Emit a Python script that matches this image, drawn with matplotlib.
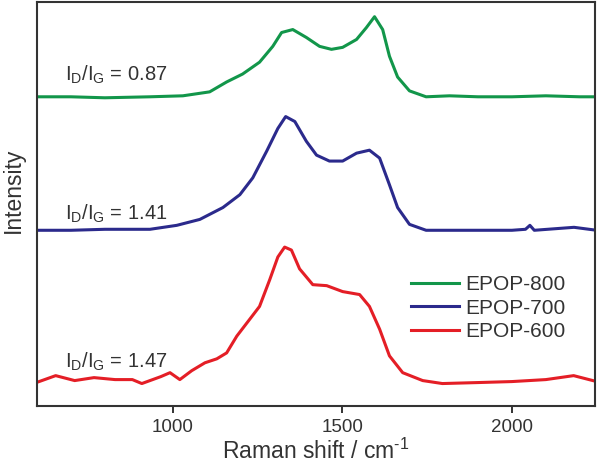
import matplotlib
matplotlib.use("Agg")
import matplotlib.pyplot as plt

plt.rcParams['font.family'] = ['Liberation Sans', 'DejaVu Sans']
plt.rcParams['mathtext.fontset'] = 'custom'
plt.rcParams['mathtext.rm'] = 'Liberation Sans'

# Raman shift (cm-1) and stacked intensity (arb. units, offsets included)
shift_800 = [598, 700, 800, 933, 1030, 1109, 1159, 1206, 1256, 1295, 1321, 1354, 1394,
             1433, 1468, 1501, 1542, 1571, 1595, 1619, 1639, 1663, 1698, 1747, 1816,
             1900, 2000, 2100, 2200, 2250]
int_800 = [313, 313, 312, 313, 314, 318, 328, 336, 348, 364, 378, 381, 373,
           364, 361, 363, 371, 383, 394, 381, 354, 333, 319, 313, 314,
           313, 313, 314, 313, 313]

shift_700 = [598, 700, 800, 933, 1012, 1080, 1148, 1198, 1236, 1277, 1310, 1333, 1360,
             1394, 1424, 1462, 1501, 1542, 1580, 1610, 1639, 1663, 1698, 1747, 1816,
             1900, 2000, 2040, 2053, 2066, 2183, 2250]
int_700 = [178, 178, 179, 179, 183, 189, 201, 214, 231, 258, 281, 293, 288,
           268, 254, 248, 248, 256, 259, 251, 224, 201, 184, 178, 178,
           178, 178, 179, 183, 178, 181, 178]

shift_600 = [598, 655, 711, 768, 830, 881, 909, 933, 965, 992, 1021, 1056, 1095,
             1130, 1159, 1189, 1227, 1256, 1286, 1310, 1330, 1350, 1374, 1413, 1454,
             1501, 1551, 1580, 1610, 1639, 1678, 1737, 1795, 1900, 2000, 2100, 2182, 2250]
int_600 = [24, 31, 26, 29, 27, 27, 23, 26, 30, 34, 27, 36, 44,
           48, 54, 71, 88, 101, 128, 151, 161, 158, 139, 123, 122,
           116, 113, 101, 78, 51, 34, 26, 23, 24, 25, 27, 31, 25]

labels = ['EPOP-800', 'EPOP-700', 'EPOP-600']
ratios = ['0.87', '1.41', '1.47']
ratio_y = [329, 189, 39]
colors = ['#12964a', '#2b2a8c', '#e41e26']

fig = plt.figure(figsize=(6.0, 4.67), dpi=100)
ax = fig.add_axes([0.0617, 0.13, 0.930, 0.866])

series = [(shift_800, int_800), (shift_700, int_700), (shift_600, int_600)]
for (x, y), lab, c in zip(series, labels, colors):
    ax.plot(x, y, color=c, lw=2.2, label=lab)

for r, yy in zip(ratios, ratio_y):
    ax.text(682, yy, r'I$_\mathregular{D}$/I$_\mathregular{G}$ = ' + r,
            fontsize=14.5, color='#333333', va='baseline', ha='left')

ax.set_xlim(600, 2245)
ax.set_ylim(0, 409)
ax.set_xticks([1000, 1500, 2000])
ax.set_yticks([])
ax.tick_params(axis='x', direction='out', length=5, width=1.4, color='#333333',
               labelsize=13.5, labelcolor='#333333', pad=4)
for s in ax.spines.values():
    s.set_linewidth(1.5)
    s.set_color('#333333')

ax.set_xlabel('Raman shift / cm$^{\\mathregular{\u20101}}$', fontsize=16.5, color='#333333')
ax.xaxis.set_label_coords(0.5, -0.079)
ax.set_ylabel('Intensity', fontsize=16.5, color='#333333')
ax.yaxis.set_label_coords(-0.022, 0.535)

ax.legend(loc='upper left', bbox_to_anchor=(0.655, 0.345), frameon=False, fontsize=15,
          handlelength=2.3, handletextpad=0.3, labelspacing=0.22, labelcolor='#333333',
          borderaxespad=0)

fig.savefig('out.png', dpi=100)
